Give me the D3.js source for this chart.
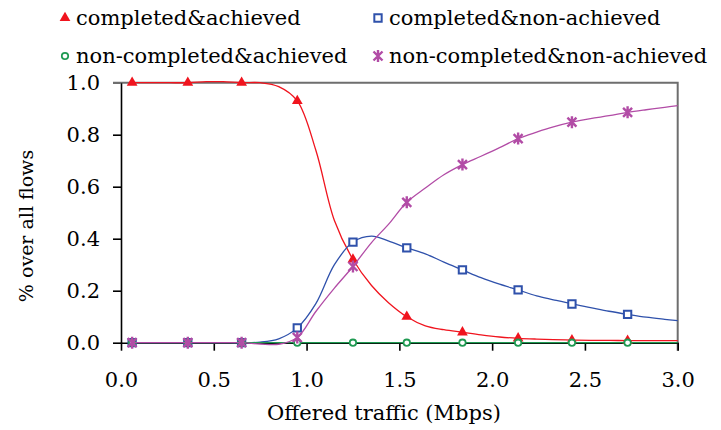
<!DOCTYPE html>
<html>
<head>
<meta charset="utf-8">
<script src="https://cdn.jsdelivr.net/npm/d3@7"></script>
<style>
  body { margin: 0; background: #fff; }
  text { font-family: "DejaVu Serif", serif; fill: #000; }
</style>
</head>
<body>
<script>
const width = 721,
    height = 430;
const margin = {top: 82.7, right: 43.3, bottom: 87.3, left: 121};

// Offered traffic (Mbps) for every point of the smoothed lines
const offered = [0.06, 0.16, 0.26, 0.36, 0.46, 0.55, 0.65, 0.75, 0.85, 0.95,
    1.05, 1.15, 1.25, 1.35, 1.44, 1.54, 1.64, 1.74, 1.84, 1.94,
    2.04, 2.14, 2.24, 2.33, 2.43, 2.53, 2.63, 2.73, 2.83, 2.93, 3.0];

const completedAchieved = [1, 1, 1, 1, 1.004, 1.004, 1, 1, 0.985, 0.93,
    0.74, 0.47, 0.32, 0.22, 0.155, 0.10, 0.065, 0.05, 0.04, 0.03,
    0.022, 0.017, 0.014, 0.012, 0.01, 0.009, 0.009, 0.008, 0.008, 0.008, 0.008];

const completedNonAchieved = [0, 0, 0, 0, 0, 0, 0, 0.002, 0.015, 0.057,
    0.15, 0.30, 0.387, 0.41, 0.392, 0.365, 0.342, 0.31, 0.28, 0.25,
    0.225, 0.203, 0.18, 0.165, 0.149, 0.135, 0.121, 0.109, 0.098, 0.09, 0.085];

const nonCompletedAchieved = [0, 0, 0, 0, 0, 0, 0, 0, 0, 0,
    0, 0, 0, 0, 0, 0, 0, 0, 0, 0,
    0, 0, 0, 0, 0, 0, 0, 0, 0, 0, 0];

const nonCompletedNonAchieved = [0, 0, 0, 0, 0, 0, 0, -0.005, -0.006, 0.02,
    0.12, 0.21, 0.293, 0.385, 0.454, 0.54, 0.595, 0.646, 0.685, 0.717,
    0.75, 0.785, 0.81, 0.83, 0.848, 0.862, 0.873, 0.886, 0.896, 0.905, 0.912];

// a marker sits on every third point
const markerEvery = 3;

const xTicks = [0, 0.5, 1.0, 1.5, 2.0, 2.5, 3.0];
const yTicks = [0, 0.2, 0.4, 0.6, 0.8, 1.0];

const series = [
    {name: "completed&achieved", values: completedAchieved, color: "#f0141e", marker: "triangle"},
    {name: "completed&non-achieved", values: completedNonAchieved, color: "#2f51ab", marker: "square"},
    {name: "non-completed&achieved", values: nonCompletedAchieved, color: "#1f9a52", marker: "circle"},
    {name: "non-completed&non-achieved", values: nonCompletedNonAchieved, color: "#b24ca6", marker: "star"}
];

const x = d3.scaleLinear()
    .domain([0, 3])
    .range([margin.left, width - margin.right]);

const y = d3.scaleLinear()
    .domain([0, 1])
    .range([height - margin.bottom, margin.top]);

const svg = d3.select("body").append("svg")
    .attr("width", width)
    .attr("height", height);

// grey frame on top and right
svg.append("path")
    .attr("d", `M${x(0) - 8},${y(1)}H${x(3)}V${y(0) + 8}`)
    .attr("fill", "none")
    .attr("stroke", "#6e6e6e")
    .attr("stroke-width", 2);

// Axes
const yAxis = svg.append("g")
    .attr("transform", `translate(${x(0)},0)`)
    .call(d3.axisLeft(y).tickValues(yTicks).tickFormat(d3.format(".1f"))
        .tickSize(8).tickSizeOuter(0).tickPadding(13));

const xAxis = svg.append("g")
    .attr("transform", `translate(0,${y(0)})`)
    .call(d3.axisBottom(x).tickValues(xTicks).tickFormat(d3.format(".1f"))
        .tickSize(8).tickSizeOuter(0).tickPadding(21));

[xAxis, yAxis].forEach(function (a) {
    a.selectAll("path, line").attr("stroke", "#000").attr("stroke-width", 1.6);
    a.selectAll("text").style("font-size", "21px").attr("fill", "#000");
    a.attr("font-family", null);
});
yAxis.select(".tick:last-of-type line").attr("stroke", "#6e6e6e");

svg.append("text")
    .attr("x", 384)
    .attr("y", 420)
    .attr("text-anchor", "middle")
    .style("font-size", "21px")
    .text("Offered traffic (Mbps)");

svg.append("text")
    .attr("transform", "translate(33,226) rotate(-90)")
    .attr("text-anchor", "middle")
    .style("font-size", "19px")
    .text("% over all flows");

// markers
function drawMarker(sel, type, color) {
    if (type === "triangle") {
        sel.append("path")
            .attr("d", d3.symbol(d3.symbolTriangle, 50)())
            .attr("fill", color);
    } else if (type === "square") {
        sel.append("path")
            .attr("d", d3.symbol(d3.symbolSquare, 54)())
            .attr("fill", "#fff")
            .attr("stroke", color)
            .attr("stroke-width", 2);
    } else if (type === "circle") {
        sel.append("circle")
            .attr("r", 3.2)
            .attr("fill", "#fff")
            .attr("stroke", color)
            .attr("stroke-width", 1.8);
    } else {
        sel.append("path")
            .attr("d", "M-4.5,-4.5L4.5,4.5M-4.5,4.5L4.5,-4.5M0,-6V6")
            .attr("stroke", color)
            .attr("stroke-width", 2.4);
    }
}

const line = d3.line()
    .x(function (d, i) { return x(offered[i]); })
    .y(function (d) { return y(d); })
    .curve(d3.curveCatmullRom.alpha(0.5));

series.forEach(function (s) {
    const g = svg.append("g");
    g.append("path")
        .attr("d", line(s.values))
        .attr("fill", "none")
        .attr("stroke", s.color)
        .attr("stroke-width", 1.3);

    const pts = s.values
        .map(function (v, i) { return {x: offered[i], v: v, i: i}; })
        .filter(function (d) { return d.i % markerEvery === 0 && d.i < 30; });

    g.selectAll("g.mark")
        .data(pts)
        .enter().append("g")
        .attr("class", "mark")
        .attr("transform", function (d) { return `translate(${x(d.x)},${y(d.v)})`; })
        .each(function () { drawMarker(d3.select(this), s.marker, s.color); });
});

// Legend
const legendPos = [[65, 18], [378, 18], [65, 56], [378, 56]];
series.forEach(function (s, i) {
    const lg = svg.append("g")
        .attr("transform", `translate(${legendPos[i][0]},${legendPos[i][1]})`);
    drawMarker(lg, s.marker, s.color);
    lg.append("text")
        .attr("x", 11)
        .attr("y", 7)
        .style("font-size", "21px")
        .text(s.name);
});
</script>
</body>
</html>
